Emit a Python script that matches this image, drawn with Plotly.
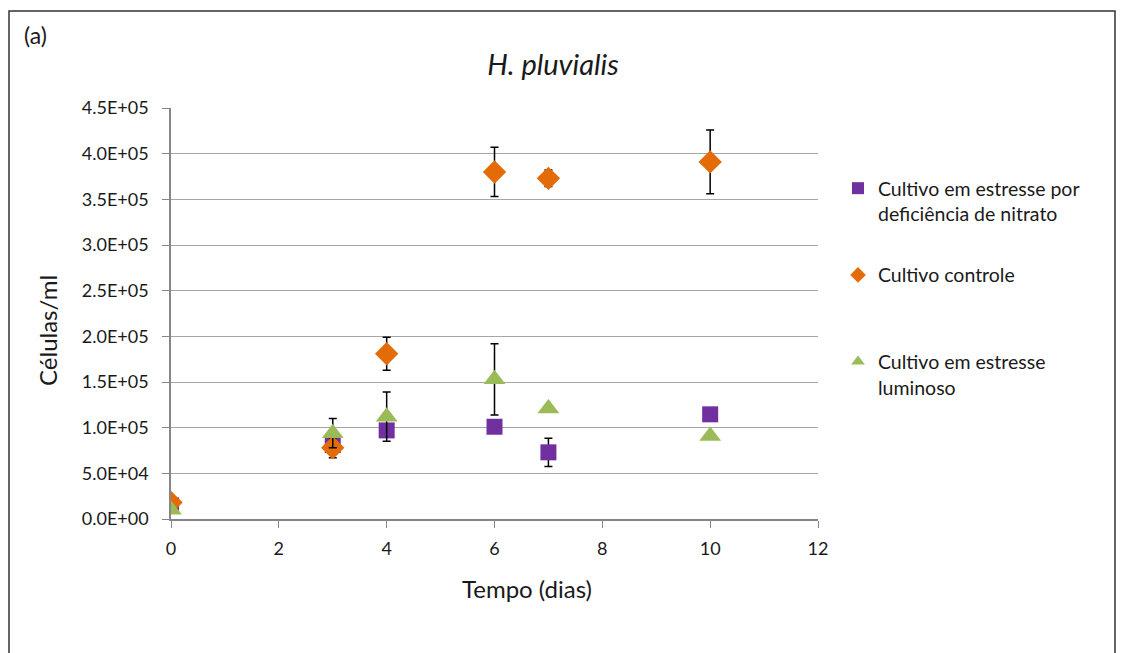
import plotly.graph_objects as go

# Data
dias = [0, 3, 4, 6, 7, 10]

nitrato = [1.5e4, 8.1e4, 9.7e4, 1.01e5, 7.3e4, 1.146e5]
nitrato_err = [0, 3e3, 3e3, 3e3, 1.55e4, 3e3]

controle = [1.8e4, 7.8e4, 1.81e5, 3.80e5, 3.73e5, 3.91e5]
controle_err = [0, 1.1e4, 1.8e4, 2.7e4, 0.9e4, 3.5e4]

luminoso = [1.0e4, 9.4e4, 1.12e5, 1.53e5, 1.21e5, 9.1e4]
luminoso_err = [0, 1.6e4, 2.7e4, 3.9e4, 0.3e4, 0.3e4]

y_ticks = [0, 5e4, 1e5, 1.5e5, 2e5, 2.5e5, 3e5, 3.5e5, 4e5, 4.5e5]
y_tick_labels = ["0.0E+00", "5.0E+04", "1.0E+05", "1.5E+05", "2.0E+05",
                 "2.5E+05", "3.0E+05", "3.5E+05", "4.0E+05", "4.5E+05"]
x_ticks = [0, 2, 4, 6, 8, 10, 12]

nomes = ["Cultivo em estresse por<br>deficiência de nitrato",
         "Cultivo controle<br> ",
         "Cultivo em estresse<br>luminoso"]

FONT = "Lato"
TXT = "#1a1a1a"

fig = go.Figure()

err_style = dict(type="data", color="black", thickness=1.5, width=4)

fig.add_trace(go.Scatter(
    x=dias, y=nitrato, mode="markers", name=nomes[0], legendgroup="a",
    marker=dict(symbol="square", size=16, color="#7030A0"),
    error_y=dict(array=nitrato_err, **err_style)))
fig.add_trace(go.Scatter(
    x=dias, y=controle, mode="markers", name=nomes[1], legendgroup="b",
    marker=dict(symbol="diamond", size=18, color="#E36C09"),
    error_y=dict(array=controle_err, **err_style)))
fig.add_trace(go.Scatter(
    x=dias, y=luminoso, mode="markers", name=nomes[2], legendgroup="c",
    marker=dict(symbol="triangle-up", size=19, color="#9BBB59"),
    error_y=dict(array=luminoso_err, **err_style)))

fig.update_layout(
    width=1122, height=653,
    margin=dict(l=171, r=304, t=108, b=134),
    paper_bgcolor="white", plot_bgcolor="white",
    font=dict(family=FONT, size=18, color=TXT),
    title=dict(text="<i>H. pluvialis</i>", x=553 / 1122, xanchor="center",
               y=1 - 65 / 653, yanchor="middle",
               font=dict(family=FONT, size=29, color=TXT)),
    showlegend=True,
    legend=dict(x=(838 - 171) / 647, xanchor="left", y=(519 - 169) / 411, yanchor="top",
                font=dict(family=FONT, size=19.5, color=TXT),
                tracegroupgap=33, valign="top", itemsizing="constant",
                bgcolor="rgba(0,0,0,0)"),
    xaxis=dict(range=[0, 12], tickvals=x_ticks, showgrid=False,
               showline=True, linecolor="#868686", linewidth=1.5,
               ticks="outside", ticklen=7, tickcolor="#868686",
               ticklabelstandoff=6,
               zeroline=False, tickfont=dict(size=18)),
    yaxis=dict(range=[0, 4.5e5], tickvals=y_ticks, ticktext=y_tick_labels,
               showgrid=True, gridcolor="#A6A6A6", gridwidth=1.2,
               showline=True, linecolor="#868686", linewidth=1.5,
               ticks="outside", ticklen=7, tickcolor="#868686",
               ticklabelstandoff=10,
               zeroline=False, tickfont=dict(size=18)),
)

# axis titles
fig.add_annotation(text="Tempo (dias)", xref="paper", yref="paper",
                   x=(527 - 171) / 647, y=(519 - 588) / 411, xanchor="center", yanchor="middle",
                   showarrow=False, font=dict(family=FONT, size=24, color=TXT))
fig.add_annotation(text="Células/ml", xref="paper", yref="paper", textangle=-90,
                   x=(47 - 171) / 647, y=(519 - 331) / 411, xanchor="center", yanchor="middle",
                   showarrow=False, font=dict(family=FONT, size=24, color=TXT))

# outer frame
fig.add_shape(type="rect", xref="paper", yref="paper",
              x0=(9 - 171) / 647, x1=(1115 - 171) / 647,
              y0=(519 - 700) / 411, y1=(519 - 11) / 411,
              line=dict(color="#333333", width=1.5), fillcolor="rgba(0,0,0,0)", layer="below")

fig.add_annotation(text="(a)", xref="paper", yref="paper",
                   x=(22 - 171) / 647, y=(519 - 35) / 411, xanchor="left", yanchor="middle",
                   showarrow=False, font=dict(family=FONT, size=23, color=TXT))

fig.write_html("out.html")
